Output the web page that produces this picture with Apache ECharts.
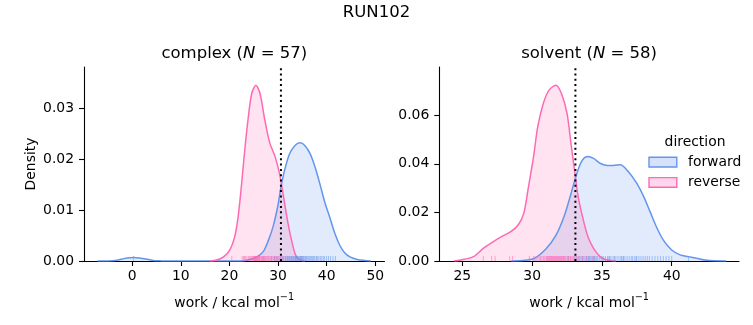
<!DOCTYPE html>
<html><head><meta charset="utf-8">
<script src="https://cdn.jsdelivr.net/npm/echarts@6/dist/echarts.min.js"></script>
<style>html,body{margin:0;padding:0;background:#fff}#c{width:753px;height:325px}</style>
</head><body><div id="c"></div>
<script>
// ---- data ----
const complexForwardKde = [[-7.1,0],[-5,0.00002],[-3.5,0.0001],[-2,0.0004],[-1,0.0006],[0.3,0.0007],[1.5,0.0006],[2.8,0.0004],[4.3,0.0001],[6,0.00002],[8,0],[22.5,0],[24.2,0.0003],[25.5,0.0007],[27.0,0.0019],[28.0,0.0040],[29.0,0.0068],[30.0,0.0110],[30.6,0.0145],[31.4,0.0180],[32.4,0.0211],[33.5,0.0227],[34.5,0.0232],[35.5,0.0227],[36.6,0.0211],[37.6,0.0185],[38.6,0.0152],[39.6,0.0116],[40.7,0.0084],[41.7,0.0054],[42.7,0.0031],[43.7,0.0016],[44.8,0.0008],[46.3,0.0003],[47.8,0.0001],[49.1,0]];
const complexReverseKde = [[16.0,0],[17.4,0.0002],[18.8,0.0008],[20.1,0.0022],[21.1,0.0048],[21.8,0.0087],[22.5,0.0150],[23.2,0.0222],[23.9,0.0283],[24.6,0.0329],[25.45,0.0345],[26.3,0.0329],[27.3,0.0276],[28.3,0.0232],[29.4,0.0205],[30.3,0.0172],[30.9,0.0140],[31.5,0.0105],[32.1,0.0072],[32.8,0.0040],[33.6,0.0012],[34.5,0.0002],[35.5,0]];
const solventForwardKde = [[28.5,0],[29.5,0.0003],[30.2,0.0012],[31.0,0.0050],[31.7,0.0105],[32.3,0.0185],[32.8,0.0280],[33.2,0.0360],[33.6,0.0415],[34.0,0.0430],[34.4,0.0422],[34.9,0.0401],[35.4,0.0393],[35.8,0.0393],[36.3,0.0396],[36.9,0.0367],[37.5,0.0319],[38.0,0.0264],[38.45,0.0203],[38.9,0.0141],[39.4,0.0086],[40.0,0.0045],[40.6,0.0025],[41.2,0.0018],[41.8,0.0011],[42.5,0.0003],[43.9,0]];
const solventReverseKde = [[24.4,0],[24.8,0.0003],[25.8,0.0018],[26.5,0.0052],[27.2,0.0079],[27.9,0.0103],[28.5,0.0122],[29.0,0.0148],[29.4,0.0196],[29.7,0.0292],[30.1,0.0428],[30.4,0.0552],[30.8,0.0648],[31.2,0.0702],[31.7,0.0723],[32.1,0.0689],[32.5,0.0607],[32.8,0.0475],[33.07,0.0360],[33.3,0.0264],[33.67,0.0168],[34.0,0.0100],[34.4,0.0052],[34.87,0.0018],[35.3,0.0005],[36.0,0]];

const complexForwardWork = [0.3,28.7,29.3,29.8,30.2,30.6,30.9,31.2,31.5,31.8,32.0,32.2,32.4,32.6,32.8,33.0,33.2,33.3,33.5,33.6,33.7,33.8,34.0,34.1,34.3,34.4,34.6,34.7,34.8,34.9,35.0,35.2,35.3,35.5,35.7,35.8,36.0,36.2,36.4,36.6,36.8,37.0,37.2,37.4,37.6,37.9,38.1,38.4,38.7,39.0,39.3,39.6,40.0,40.4,40.8,41.3,41.8];
const complexReverseWork = [20.5,22.6,22.9,23.1,23.3,23.6,23.9,24.1,24.3,24.5,24.7,24.8,25.0,25.1,25.2,25.2,25.3,25.4,25.45,25.5,25.6,25.7,25.8,25.9,26.0,26.1,26.2,26.3,26.5,26.6,26.8,26.9,27.0,27.1,27.2,27.4,27.5,27.7,27.9,28.0,28.2,28.4,28.6,28.8,29.1,29.3,29.5,29.7,29.9,30.2,30.5,30.8,31.1,31.5,31.9,32.4,32.8];
const solventForwardWork = [32.6,33.0,33.2,33.35,33.5,33.6,33.7,33.8,33.9,34.0,34.05,34.1,34.2,34.3,34.4,34.45,34.5,34.6,34.7,34.85,35.0,35.1,35.25,35.4,35.5,35.55,35.65,35.8,35.9,36.0,36.15,36.3,36.4,36.5,36.55,36.65,36.8,36.95,37.1,37.2,37.35,37.45,37.5,37.65,37.8,37.95,38.1,38.25,38.4,38.6,38.8,39.0,39.2,39.4,39.6,39.8,40.0,41.2];
const solventReverseWork = [26.5,27.1,27.35,28.4,28.6,29.8,30.1,30.2,30.35,30.5,30.6,30.7,30.8,30.9,31.0,31.05,31.1,31.15,31.2,31.25,31.3,31.35,31.4,31.45,31.5,31.55,31.6,31.65,31.7,31.75,31.8,31.85,31.9,31.95,32.0,32.05,32.1,32.15,32.2,32.25,32.3,32.35,32.4,32.5,32.55,32.6,32.7,32.75,32.8,32.9,33.0,33.1,33.2,33.3,33.4,33.6,33.9,34.3];

const refLines = [30.6, 33.1];
const xTicksComplex = [0, 10, 20, 30, 40, 50];
const yTicksComplex = [0, 0.01, 0.02, 0.03];
const xTicksSolvent = [25, 30, 35, 40];
const yTicksSolvent = [0, 0.02, 0.04, 0.06];
const panelTitles = ['complex', 'solvent'];
const panelN = [57, 58];
const legendLabels = ['forward', 'reverse'];

// ---- style ----
const FONT = 'DejaVu Sans';
const BLUE = '#6495ED', PINK = '#FF69B4';
const BLUE_FILL = 'rgba(100,149,237,0.27)', PINK_FILL = 'rgba(255,105,180,0.27)';
const xRanges = [[-9.9, 51.9], [23.35, 44.82]];
const yMax = [0.0381, 0.0798];

function xAxis(i, ticks) {
  return {
    type: 'value', gridIndex: i, min: xRanges[i][0], max: xRanges[i][1],
    name: '{a|work / kcal mol}{s|\u22121}', nameLocation: 'middle', nameGap: 31,
    nameTextStyle: { color: '#000', fontSize: 13.9, fontFamily: FONT,
      rich: { a: { fontSize: 13.9, fontFamily: FONT, color: '#000', verticalAlign: 'bottom', lineHeight: 18 },
              s: { fontSize: 9.7, fontFamily: FONT, color: '#000', verticalAlign: 'top', lineHeight: 18, padding: [0, 0, 6, 0] } } },
    axisLine: { show: true, onZero: false, lineStyle: { color: '#000', width: 1.1 } },
    axisTick: { show: true, length: 5, lineStyle: { color: '#000', width: 1.1 }, customValues: ticks },
    axisLabel: { color: '#000', fontSize: 13.9, fontFamily: FONT, margin: 8, customValues: ticks, formatter: v => String(v) },
    splitLine: { show: false }
  };
}
function yAxis(i, ticks, name) {
  return {
    type: 'value', gridIndex: i, min: 0, max: yMax[i],
    name: name, nameLocation: 'middle', nameGap: 46,
    nameTextStyle: { color: '#000', fontSize: 13.9, fontFamily: FONT },
    axisLine: { show: true, onZero: false, lineStyle: { color: '#000', width: 1.1 } },
    axisTick: { show: true, length: 5, lineStyle: { color: '#000', width: 1.1 }, customValues: ticks },
    axisLabel: { color: '#000', fontSize: 13.9, fontFamily: FONT, margin: 10, customValues: ticks, formatter: v => v.toFixed(2) },
    splitLine: { show: false }
  };
}
function kde(i, data, color, fill) {
  return {
    type: 'line', xAxisIndex: i, yAxisIndex: i, data: data, showSymbol: false, symbol: 'none',
    smooth: 0.3,
    lineStyle: { color: color, width: 1.5 }, areaStyle: { color: fill, origin: 'start' },
    z: 2, silent: true
  };
}
function rug(i, values, color) {
  return {
    type: 'scatter', xAxisIndex: i, yAxisIndex: i, data: values.map(v => [v, 0]),
    symbol: 'rect', symbolSize: [1, 5], symbolOffset: [0, -2.5], clip: false,
    itemStyle: { color: color, opacity: 0.55 }, z: 3, silent: true
  };
}
function vline(i, v) {
  return {
    type: 'line', xAxisIndex: i, yAxisIndex: i, data: [[v, 0], [v, yMax[i]]], symbol: 'none',
    lineStyle: { color: '#000', width: 2, type: [2, 3.3], cap: 'butt' }, z: 4, silent: true
  };
}

const titleRich = {
  n: { fontSize: 16.5, fontFamily: FONT, fill: '#000' },
  i: { fontSize: 16.5, fontFamily: FONT, fontStyle: 'italic', fill: '#000' }
};
const titleCenters = [234.3, 589.1];

const chart = echarts.init(document.getElementById('c'), null, { renderer: 'canvas' });
chart.setOption({
  animation: false,
  backgroundColor: '#fff',
  grid: [
    { left: 84, top: 67, width: 300.5, height: 194 },
    { left: 439.3, top: 67, width: 299.7, height: 194 }
  ],
  xAxis: [xAxis(0, xTicksComplex), xAxis(1, xTicksSolvent)],
  yAxis: [yAxis(0, yTicksComplex, 'Density'), yAxis(1, yTicksSolvent, '')],
  series: [
    kde(0, complexForwardKde, BLUE, BLUE_FILL),
    kde(0, complexReverseKde, PINK, PINK_FILL),
    kde(1, solventForwardKde, BLUE, BLUE_FILL),
    kde(1, solventReverseKde, PINK, PINK_FILL),
    rug(0, complexForwardWork, BLUE), rug(0, complexReverseWork, PINK),
    rug(1, solventForwardWork, BLUE), rug(1, solventReverseWork, PINK),
    vline(0, refLines[0]), vline(1, refLines[1])
  ],
  graphic: [
    { type: 'text', x: 376.5, y: 13, style: { text: 'RUN102', font: '16.5px "DejaVu Sans"', fill: '#000', align: 'center', verticalAlign: 'middle' } },
    ...panelTitles.map((t, k) => ({
      type: 'text', x: titleCenters[k], y: 54,
      style: { text: '{n|' + t + ' (}{i|N}{n| = ' + panelN[k] + ')}', rich: titleRich, align: 'center', verticalAlign: 'middle' }
    })),
    { type: 'text', x: 695, y: 142, style: { text: 'direction', font: '13.9px "DejaVu Sans"', fill: '#000', align: 'center', verticalAlign: 'middle' } },
    { type: 'rect', shape: { x: 649, y: 157.3, width: 27.8, height: 9.7 }, style: { fill: BLUE_FILL, stroke: BLUE, lineWidth: 1.4 } },
    { type: 'rect', shape: { x: 649, y: 177.6, width: 27.8, height: 9.7 }, style: { fill: PINK_FILL, stroke: PINK, lineWidth: 1.4 } },
    { type: 'text', x: 688, y: 162, style: { text: legendLabels[0], font: '13.9px "DejaVu Sans"', fill: '#000', align: 'left', verticalAlign: 'middle' } },
    { type: 'text', x: 688, y: 182.4, style: { text: legendLabels[1], font: '13.9px "DejaVu Sans"', fill: '#000', align: 'left', verticalAlign: 'middle' } }
  ]
});
</script>
</body></html>
